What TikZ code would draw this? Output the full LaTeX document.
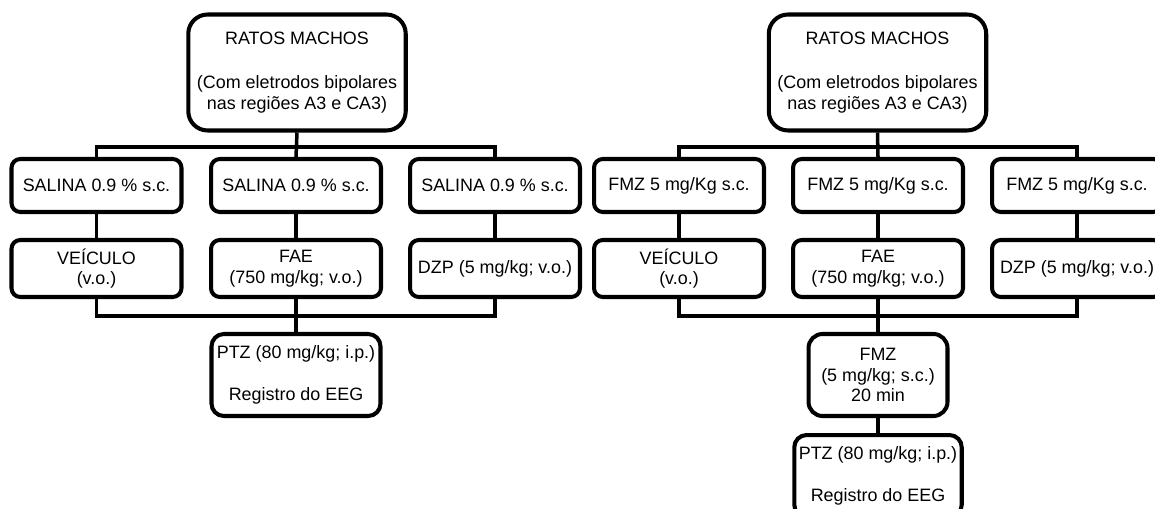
\documentclass[tikz,border=0pt]{standalone}
\usepackage{fontspec}
\setmainfont{Liberation Sans}
\begin{document}
\begin{tikzpicture}[x=0.02cm, y=-0.02cm, font=\fontsize{10.2pt}{11.8pt}\selectfont,
  box/.style={draw, line width=2.3pt, rounded corners=5pt, align=center, inner sep=1pt},
  headbox/.style={box, rounded corners=11pt, minimum width=4.35cm, minimum height=2.32cm},
  dosebox/.style={box, minimum width=3.4cm, minimum height=1.06cm},
  drugbox/.style={box, minimum width=3.4cm, minimum height=1.14cm},
  endbox/.style={box, rounded corners=7pt, minimum height=1.64cm},
  cable/.style={line width=2pt}]
  \useasboundingbox (0,0) rectangle (1155,509);
  \clip (0,0) rectangle (1155,509);
  % left panel: saline pretreatment
  \node[headbox] (ratosL) at (297,72.5) {RATOS MACHOS\\[13pt](Com eletrodos bipolares\\nas regiões A3 e CA3)};
  \foreach \n/\x in {A/96.5,B/296,C/495}
    \node[dosebox] (sal\n) at (\x,185.5) {SALINA 0.9 \% s.c.};
  \node[drugbox] (veiL) at (96.5,268.5) {VEÍCULO\\(v.o.)};
  \node[drugbox] (faeL) at (296,268.5) {FAE\\(750 mg/kg; v.o.)};
  \node[drugbox] (dzpL) at (495,268.5) {DZP (5 mg/kg; v.o.)};
  \node[endbox, minimum width=3.38cm] (ptzL) at (296,375) {PTZ (80 mg/kg; i.p.)\\[12pt]Registro do EEG};
  \coordinate (topL) at (296,147);
  \coordinate (botL) at (296,316);
  \draw[cable] (ratosL.south) -- (salB.north);
  \draw[cable] (salA.north) |- (topL) -| (salC.north);
  \draw[cable] (salA) -- (veiL);
  \draw[cable] (salB) -- (faeL);
  \draw[cable] (salC) -- (dzpL);
  \draw[cable] (veiL.south) |- (botL) -| (dzpL.south);
  \draw[cable] (faeL.south) -- (ptzL.north);
  % right panel: flumazenil pretreatment
  \node[headbox] (ratosR) at (877.5,72.5) {RATOS MACHOS\\[13pt](Com eletrodos bipolares\\nas regiões A3 e CA3)};
  \foreach \n/\x in {A/679,B/878,C/1077}
    \node[dosebox] (fmz\n) at (\x,185.5) {FMZ 5 mg/Kg s.c.};
  \node[drugbox] (veiR) at (679,268.5) {VEÍCULO\\(v.o.)};
  \node[drugbox] (faeR) at (878,268.5) {FAE\\(750 mg/kg; v.o.)};
  \node[drugbox] (dzpR) at (1077,268.5) {DZP (5 mg/kg; v.o.)};
  \node[endbox, rounded corners=8pt, minimum width=2.78cm] (fmzR) at (878,375) {FMZ\\(5 mg/kg; s.c.)\\20 min};
  \node[endbox, minimum width=3.35cm, anchor=north] (ptzR) at (878,433) {PTZ (80 mg/kg; i.p.)\\[12pt]Registro do EEG};
  \coordinate (topR) at (878,147);
  \coordinate (botR) at (878,316);
  \draw[cable] (ratosR.south) -- (fmzB.north);
  \draw[cable] (fmzA.north) |- (topR) -| (fmzC.north);
  \draw[cable] (fmzA) -- (veiR);
  \draw[cable] (fmzB) -- (faeR);
  \draw[cable] (fmzC) -- (dzpR);
  \draw[cable] (veiR.south) |- (botR) -| (dzpR.south);
  \draw[cable] (faeR.south) -- (fmzR.north);
  \draw[cable] (fmzR) -- (ptzR);
\end{tikzpicture}
\end{document}
